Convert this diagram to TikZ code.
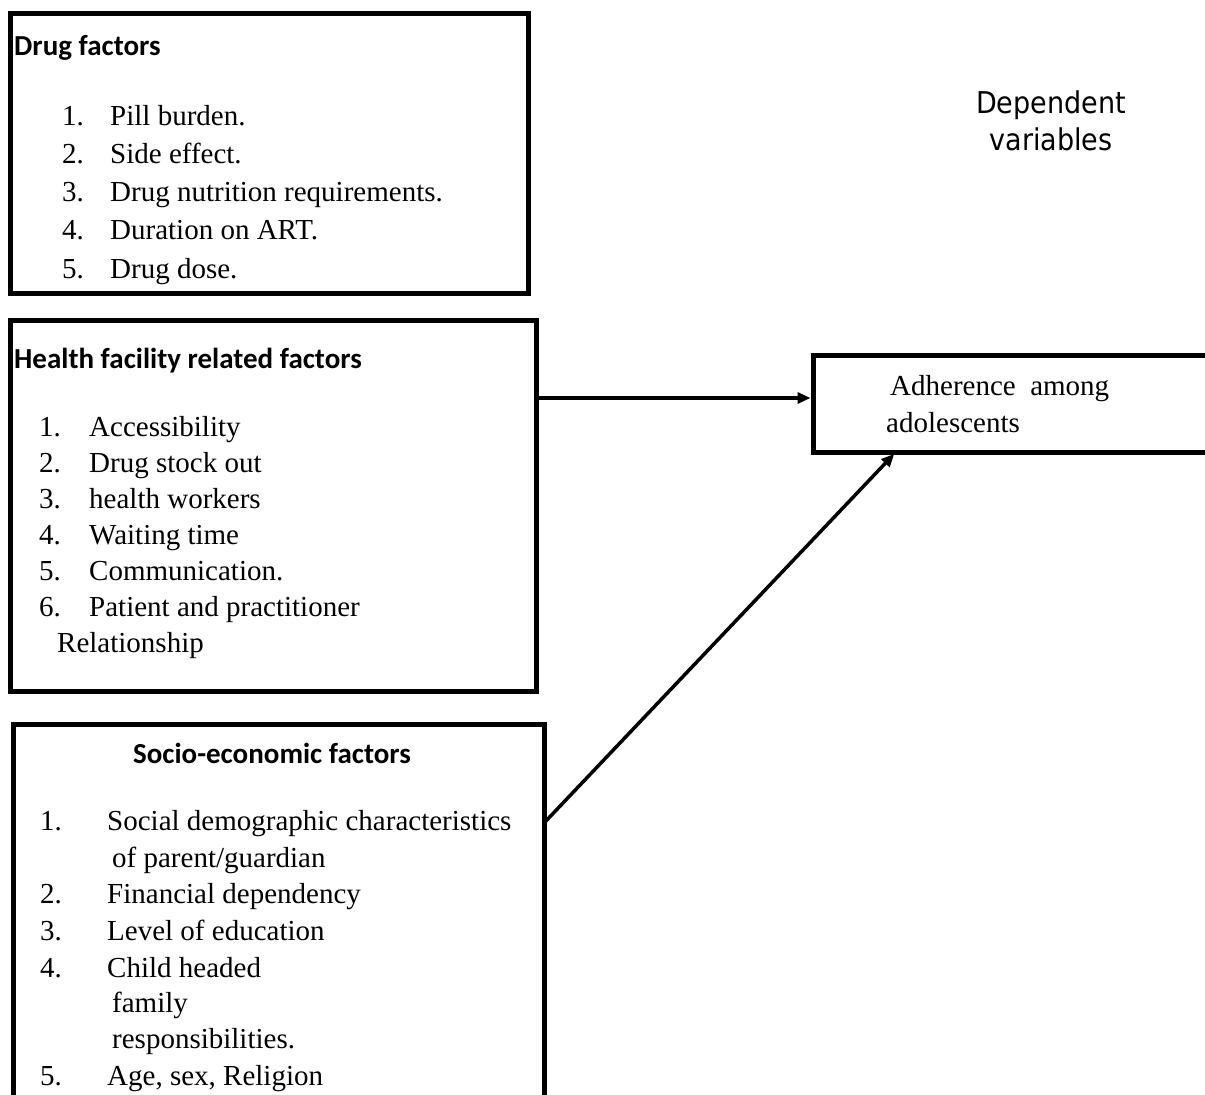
\documentclass[tikz,border=0pt]{standalone}
\usepackage{fontspec}
\setmainfont{Liberation Serif}
\newfontfamily\hdfont{Carlito}
\newfontfamily\dvfont[FakeStretch=0.9]{DejaVu Sans}
\usetikzlibrary{arrows.meta}
\begin{document}
\begin{tikzpicture}[x=1pt,y=-1pt,
  boxstyle/.style={draw=black,line width=5pt,inner sep=0pt,outer sep=0pt,anchor=north west},
  body/.style={anchor=base west,inner sep=0pt,font=\fontsize{29}{35}\selectfont},
  head/.style={anchor=base west,inner sep=0pt,font=\hdfont\bfseries\fontsize{29}{35}\selectfont},
  dep/.style={anchor=base,inner sep=0pt,font=\dvfont\fontsize{30}{36}\selectfont},
  conn/.style={line width=3.5pt,shorten <=2.5pt,shorten >=2.5pt,-{Triangle[length=13pt,width=11pt]}}]
\clip (0,0) rectangle (1205,1095);
\fill[white] (0,0) rectangle (1205,1095);
% boxes
\node[boxstyle,minimum width=518pt,minimum height=280pt] (b1) at (10,13) {};
\node[boxstyle,minimum width=526pt,minimum height=371pt] (b2) at (10,320) {};
\node[boxstyle,minimum width=531pt,minimum height=420pt] (b3) at (13,724) {};
\node[boxstyle,minimum width=430pt,minimum height=97pt] (b4) at (813,355) {};
% box 1 text
\node[head] (h1) at (14,55) {Drug factors};
\node[body] (n11) at (62,125) {1.};  \node[body] (t11) at (110,125) {Pill burden.};
\node[body] (n12) at (62,163) {2.};  \node[body] (t12) at (110,163) {Side effect.};
\node[body] (n13) at (62,201) {3.};  \node[body] (t13) at (110,201) {Drug nutrition requirements.};
\node[body] (n14) at (62,239) {4.};  \node[body] (t14) at (110,239) {Duration on ART.};
\node[body] (n15) at (62,278) {5.};  \node[body] (t15) at (110,278) {Drug dose.};
% box 2 text
\node[head] (h2) at (14,368) {Health facility related factors};
\node[body] (n21) at (39,436) {1.};  \node[body] (t21) at (89,436) {Accessibility};
\node[body] (n22) at (39,472) {2.};  \node[body] (t22) at (89,472) {Drug stock out};
\node[body] (n23) at (39,508) {3.};  \node[body] (t23) at (89,508) {health workers};
\node[body] (n24) at (39,544) {4.};  \node[body] (t24) at (89,544) {Waiting time};
\node[body] (n25) at (39,580) {5.};  \node[body] (t25) at (89,580) {Communication.};
\node[body] (n26) at (39,616) {6.};  \node[body] (t26) at (89,616) {Patient and practitioner};
\node[body] (t27) at (57,652) {Relationship};
% box 3 text
\node[head,anchor=base] (h3) at (272,763) {Socio-economic factors};
\node[body] (n31) at (40,830) {1.};  \node[body] (t31) at (107,830) {Social demographic characteristics};
\node[body] (t31b) at (112,867) {of parent/guardian};
\node[body] (n32) at (40,903) {2.};  \node[body] (t32) at (107,903) {Financial dependency};
\node[body] (n33) at (40,940) {3.};  \node[body] (t33) at (107,940) {Level of education};
\node[body] (n34) at (40,977) {4.};  \node[body] (t34) at (107,977) {Child headed};
\node[body] (t34b) at (112,1012) {family};
\node[body] (t34c) at (112,1048) {responsibilities.};
\node[body] (n35) at (40,1085) {5.};  \node[body] (t35) at (107,1085) {Age, sex, Religion};
% box 4 text
\node[body] (t41) at (890,395) {Adherence\ \ among};
\node[body] (t42) at (886,432) {adolescents};
% dependent variables
\node[dep] (d1) at (1051,113) {Dependent};
\node[dep] (d2) at (1051,150) {variables};
% connectors
\path ([yshift=5.5pt]b4.west) coordinate (tipA);
\draw[conn] (b2.east |- tipA) -- (tipA);
\draw[conn] ([yshift=-99pt]b3.north east) -- ([xshift=-132pt]b4.south);
\end{tikzpicture}
\end{document}
